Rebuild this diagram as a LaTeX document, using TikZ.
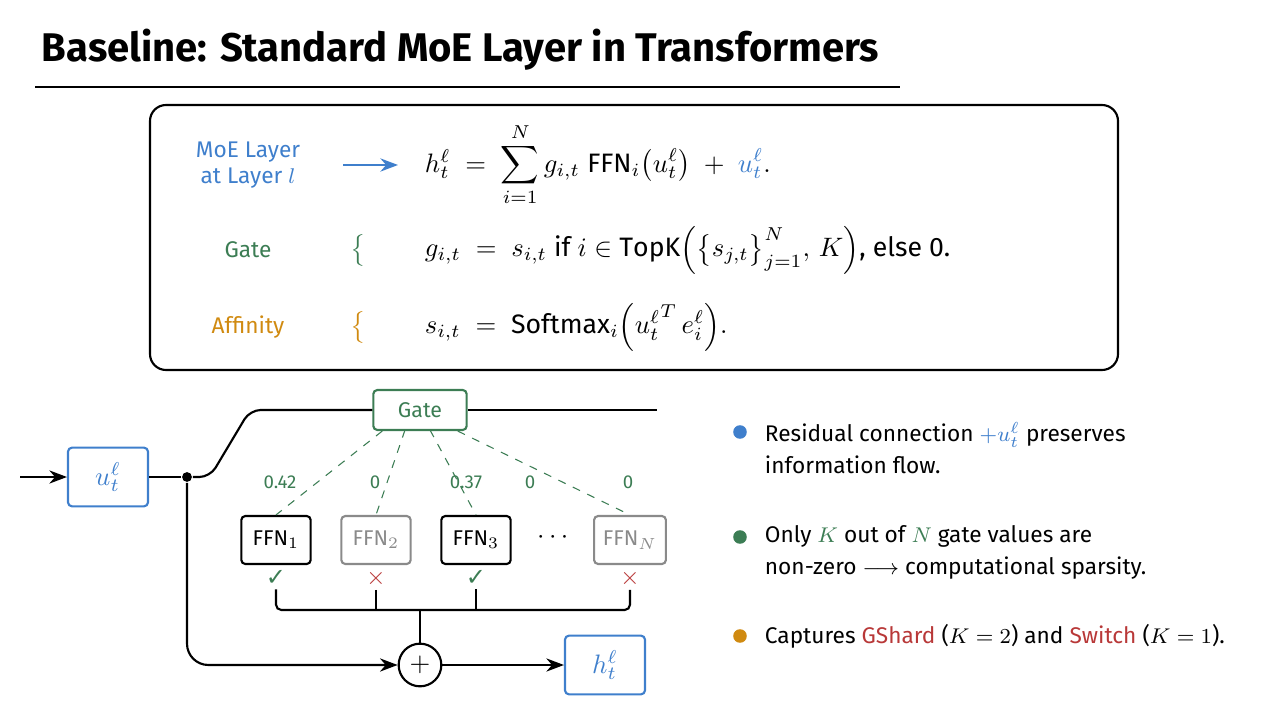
\documentclass[tikz,border=0pt]{standalone}
\usepackage{fontspec}
\usepackage{amsmath, amssymb}
\setmainfont{Fira Sans}
\newfontfamily\symfont{DejaVu Sans}
\usetikzlibrary{positioning, arrows.meta}
\definecolor{moeblue}{HTML}{3F7FCC}
\definecolor{moegreen}{HTML}{3C7D54}
\definecolor{moeorange}{HTML}{D08A10}
\definecolor{moered}{HTML}{B83838}
\definecolor{moegray}{HTML}{8A8A8A}

\begin{document}
\begin{tikzpicture}[x=0.375pt, y=-0.375pt, line width=0.8pt,
    box/.style={draw, rounded corners=1.5pt, minimum width=26pt, minimum height=18pt, font=\fontsize{8}{9}\selectfont},
    vecbox/.style={draw=moeblue, thick, rounded corners=1.5pt, minimum width=30pt, minimum height=22pt, text=moeblue},
    gatelink/.style={moegreen, dashed, thin},
    val/.style={text=moegreen, font=\fontsize{7}{8}\selectfont},
    note/.style={anchor=west, align=left, font=\fontsize{8.5}{12}\selectfont},
    lbl/.style={font=\fontsize{8.5}{10}\selectfont, align=center},
    eqn/.style={anchor=west, font=\fontsize{10}{12}\selectfont},
    brace/.style={font=\fontsize{10}{12}\selectfont}]
    \useasboundingbox (0, 0) rectangle (1280, 720);

    % title
    \node[anchor=west, font=\fontsize{15}{18}\selectfont\bfseries] (title) at (32, 50) {Baseline: Standard MoE Layer in Transformers};
    \draw[thick] (35, 87) -- (900, 87);

    % formula panel
    \draw[thick, rounded corners=6pt] (150, 105) rectangle (1118, 370);
    \node[lbl, text=moeblue] (moe) at (248, 165) {MoE Layer\\at Layer $l$};
    \node[lbl, text=moegreen] (gate) at (248, 250) {Gate};
    \node[lbl, text=moeorange] (aff) at (248, 327) {Affinity};
    \node[eqn] (eq1) at (415, 165) {$h_t^{\ell} \;=\; \displaystyle\sum_{i=1}^{N} g_{i,t}\;\mathrm{FFN}_i\big(u_t^{\ell}\big) \;+\; \color{moeblue}u_t^{\ell}\color{black}.$};
    \node[eqn] (eq2) at (415, 250) {$g_{i,t} \;=\; s_{i,t}$ if $i \in \mathrm{TopK}\Big(\big\{s_{j,t}\big\}_{j=1}^{N},\, K\Big)$, else 0.};
    \node[eqn] (eq3) at (415, 327) {$s_{i,t} \;=\; \mathrm{Softmax}_i\Big({u_t^{\ell}}^{T}\, e_i^{\ell}\Big).$};
    \coordinate (a1) at (343, 165);
    \coordinate (a2) at (398, 165);
    \draw[-{Stealth}, moeblue] (a1) -- (a2);
    \node[brace, text=moegreen] (br1) at (360, 250) {$\left\{\rule{0pt}{9pt}\right.$};
    \node[brace, text=moeorange] (br2) at (360, 327) {$\left\{\rule{0pt}{9pt}\right.$};

    % diagram
    \coordinate (in) at (20, 477);
    \node[vecbox] (u) at (108, 477) {$u_t^{\ell}$};
    \node[draw=moegreen, thick, rounded corners=1.5pt, minimum width=35pt, minimum height=15pt, text=moegreen, font=\fontsize{8}{9}\selectfont] (g) at (420, 410) {Gate};
    \coordinate (out) at (657, 410);
    \node[fill, circle, inner sep=1.3pt] (dot) at (187, 477) {};
    \node[draw, circle, thick, minimum size=16pt, inner sep=0pt] (plus) at (420, 665) {$+$};
    \node[vecbox] (h) at (605, 665) {$h_t^{\ell}$};

    \node[box, thick] (f1) at (276, 540) {FFN$_1$};
    \node[box, draw=moegray, text=moegray] (f2) at (376, 540) {FFN$_2$};
    \node[box, thick] (f3) at (476, 540) {FFN$_3$};
    \node (dots) at (555, 538) {$\cdots$};
    \node[box, draw=moegray, text=moegray] (fN) at (630, 540) {FFN$_N$};

    \node[val] (v1) at (280, 482) {0.42};
    \node[val] (v2) at (375, 482) {0};
    \node[val] (v3) at (466, 482) {0.37};
    \node[val] (v4) at (530, 482) {0};
    \node[val] (v5) at (628, 482) {0};

    \draw[gatelink] (g.south west) ++(10, 0) -- (f1.north);
    \draw[gatelink] (g) ++(-15, 20) -- (f2.north);
    \draw[gatelink] (g) ++(10, 20) -- (f3.north);
    \draw[gatelink] (g.south east) ++(-10, 0) -- (fN.north);

    \node[text=moegreen, font=\symfont\fontsize{9}{10}\selectfont, inner sep=1pt] (c1) at (276, 578) {✓};
    \node[text=moered, font=\fontsize{9}{10}\selectfont, inner sep=1pt] (c2) at (376, 578) {$\times$};
    \node[text=moegreen, font=\symfont\fontsize{9}{10}\selectfont, inner sep=1pt] (c3) at (476, 578) {✓};
    \node[text=moered, font=\fontsize{9}{10}\selectfont, inner sep=1pt] (cN) at (630, 578) {$\times$};

    \coordinate (m) at (420, 610);
    \draw[thick, rounded corners=2pt] (c1.south) |- (m) -| (cN.south);
    \draw[thick] (c2.south) -- (c2.south |- m);
    \draw[thick] (c3.south) -- (c3.south |- m);
    \draw[thick] (m) -- (plus);

    \draw[thick, -{Stealth}] (in) -- (u);
    \draw[thick] (u) -- (dot);
    \draw[thick, rounded corners=4pt] (dot) -- (210, 477) -- (250, 410) -- (g);
    \draw[thick] (g) -- (out);
    \draw[thick, -{Stealth}, rounded corners=8pt] (dot) |- (plus);
    \draw[thick, -{Stealth}] (plus) -- (h);

    % notes
    \node[fill=moeblue, circle, inner sep=1.8pt] (b1) at (740, 432) {};
    \node[fill=moegreen, circle, inner sep=1.8pt] (b2) at (740, 537) {};
    \node[fill=moeorange, circle, inner sep=1.8pt] (b3) at (740, 636) {};
    \node[note] (n1) at (755, 448) {Residual connection \textcolor{moeblue}{$+u_t^{\ell}$} preserves\\information flow.};
    \node[note] (n2) at (755, 552) {Only \textcolor{moegreen}{$K$} out of \textcolor{moegreen}{$N$} gate values are\\non-zero $\longrightarrow$ computational sparsity.};
    \node[note] (n3) at (755, 636) {Captures \textcolor{moered}{GShard} ($K = 2$) and \textcolor{moered}{Switch} ($K = 1$).};
\end{tikzpicture}
\end{document}
